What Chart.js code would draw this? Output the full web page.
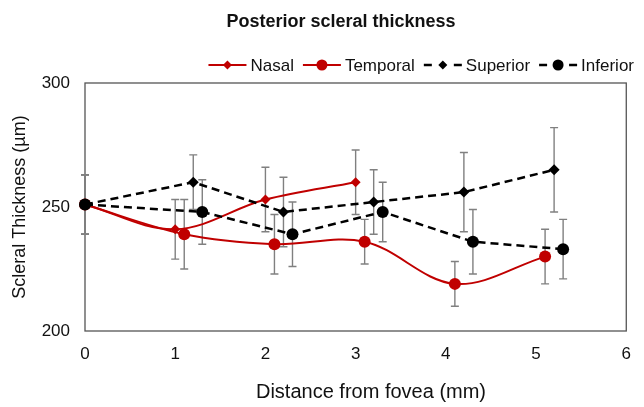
<!DOCTYPE html>
<html>
<head>
<meta charset="utf-8">
<script src="https://cdn.jsdelivr.net/npm/chart.js@4.4.1/dist/chart.umd.min.js"></script>
<style>
  html, body { margin: 0; padding: 0; background: #fff; }
</style>
</head>
<body>
<canvas id="chart" width="644" height="407"></canvas>
<script>
// values (distance in mm, thickness in µm, error = +/- SD)
const nasalX = [0, 1, 2, 3];
const nasalY = [251, 241, 253, 260];
const nasalErr = [12, 12, 13, 13];

const temporalX = [0, 1.1, 2.1, 3.1, 4.1, 5.1];
const temporalY = [251, 239, 235, 236, 219, 230];
const temporalErr = [12, 14, 12, 9, 9, 11];

const superiorX = [0, 1.2, 2.2, 3.2, 4.2, 5.2];
const superiorY = [251, 260, 248, 252, 256, 265];
const superiorErr = [12, 11, 14, 13, 16, 17];

const inferiorX = [0, 1.3, 2.3, 3.3, 4.3, 5.3];
const inferiorY = [251, 248, 239, 248, 236, 233];
const inferiorErr = [12, 13, 13, 12, 13, 12];

const RED = "#c00000";
const BLACK = "#000000";
const FONT = "'Liberation Sans', Arial, sans-serif";

Chart.defaults.font.family = FONT;
Chart.defaults.color = "#111";

const toPoints = (xs, ys) => xs.map((x, i) => ({ x: x, y: ys[i] }));

//draw a legend marker by hand
const drawMarker = (ctx, style, x, y, r, color) => {
  ctx.fillStyle = color;
  ctx.beginPath();
  if (style === "rectRot") {
    ctx.moveTo(x, y - r);
    ctx.lineTo(x + r, y);
    ctx.lineTo(x, y + r);
    ctx.lineTo(x - r, y);
    ctx.closePath();
  } else {
    ctx.arc(x, y, r, 0, Math.PI * 2);
  }
  ctx.fill();
};

//box around the plot area
const framePlugin = {
  id: "frame",
  beforeDatasetsDraw(chart) {
    const { ctx, chartArea: a } = chart;
    ctx.save();
    ctx.strokeStyle = "#555";
    ctx.lineWidth = 1.3;
    ctx.strokeRect(a.left, a.top, a.right - a.left, a.bottom - a.top);
    ctx.restore();
  }
};

//vertical error bars with caps, positioned through the scales
const errorBarPlugin = {
  id: "errorBars",
  beforeDatasetsDraw(chart) {
    const { ctx, scales: { x, y } } = chart;
    ctx.save();
    ctx.strokeStyle = "#808080";
    ctx.lineWidth = 1.4;
    chart.data.datasets.forEach((ds) => {
      ds.data.forEach((p, i) => {
        const e = ds.err[i];
        const px = x.getPixelForValue(p.x);
        const top = y.getPixelForValue(p.y + e);
        const bot = y.getPixelForValue(p.y - e);
        ctx.beginPath();
        ctx.moveTo(px, top);
        ctx.lineTo(px, bot);
        ctx.moveTo(px - 4, top);
        ctx.lineTo(px + 4, top);
        ctx.moveTo(px - 4, bot);
        ctx.lineTo(px + 4, bot);
        ctx.stroke();
      });
    });
    ctx.restore();
  }
};

//title, x axis title and line+marker legend
const headerPlugin = {
  id: "header",
  afterDraw(chart) {
    const ctx = chart.ctx;
    ctx.save();
    ctx.fillStyle = "#111";
    ctx.textBaseline = "middle";
    ctx.textAlign = "center";
    ctx.font = "bold 18px " + FONT;
    ctx.fillText("Posterior scleral thickness", 341, 22);

    ctx.font = "20px " + FONT;
    ctx.fillText("Distance from fovea (mm)", 371, 392);

    ctx.font = "17px " + FONT;
    ctx.textAlign = "left";
    const lineW = 38, gapText = 4, gapItem = 9, yMid = 65;
    const widths = chart.data.datasets.map(ds => lineW + gapText + ctx.measureText(ds.label).width);
    const total = widths.reduce((s, w) => s + w, 0) + gapItem * (widths.length - 1);
    let x = 634 - total;
    chart.data.datasets.forEach((ds, i) => {
      ctx.strokeStyle = ds.borderColor;
      ctx.lineWidth = ds.borderWidth;
      ctx.beginPath();
      if (ds.borderDash) {
        ctx.moveTo(x, yMid); ctx.lineTo(x + 8, yMid);
        ctx.moveTo(x + lineW - 8, yMid); ctx.lineTo(x + lineW, yMid);
      } else {
        ctx.moveTo(x, yMid); ctx.lineTo(x + lineW, yMid);
      }
      ctx.stroke();
      drawMarker(ctx, ds.pointStyle, x + lineW / 2, yMid, ds.pointStyle === "rectRot" ? 4.5 : 5.5, ds.pointBackgroundColor);
      ctx.fillStyle = "#111";
      ctx.fillText(ds.label, x + lineW + gapText, yMid + 1);
      x += widths[i] + gapItem;
    });
    ctx.restore();
  }
};

new Chart(document.getElementById("chart"), {
  type: "line",
  data: {
    datasets: [
      {
        label: "Nasal",
        data: toPoints(nasalX, nasalY),
        err: nasalErr,
        order: 3,
        borderColor: RED,
        borderWidth: 2,
        pointStyle: "rectRot",
        pointRadius: 5,
        pointBackgroundColor: RED,
        pointBorderWidth: 0,
        tension: 0.35
      },
      {
        label: "Temporal",
        data: toPoints(temporalX, temporalY),
        err: temporalErr,
        order: 2,
        borderColor: RED,
        borderWidth: 2,
        pointStyle: "circle",
        pointRadius: 6,
        pointBackgroundColor: RED,
        pointBorderWidth: 0,
        tension: 0.35
      },
      {
        label: "Superior",
        data: toPoints(superiorX, superiorY),
        err: superiorErr,
        order: 1,
        borderColor: BLACK,
        borderWidth: 2.5,
        borderDash: [8, 5],
        pointStyle: "rectRot",
        pointRadius: 5.5,
        pointBackgroundColor: BLACK,
        pointBorderWidth: 0,
        tension: 0
      },
      {
        label: "Inferior",
        data: toPoints(inferiorX, inferiorY),
        err: inferiorErr,
        order: 0,
        borderColor: BLACK,
        borderWidth: 2.5,
        borderDash: [8, 5],
        pointStyle: "circle",
        pointRadius: 6,
        pointBackgroundColor: BLACK,
        pointBorderWidth: 0,
        tension: 0
      }
    ]
  },
  options: {
    responsive: false,
    animation: false,
    clip: false,
    layout: { padding: { top: 83, right: 5, left: 0, bottom: 0 } },
    plugins: {
      legend: { display: false },
      title: { display: false },
      tooltip: { enabled: false }
    },
    scales: {
      x: {
        type: "linear",
        min: 0,
        max: 6,
        ticks: { stepSize: 1, padding: 13, font: { size: 17 } },
        grid: { display: false, drawTicks: false },
        border: { display: false },
        afterFit: (s) => { s.height = 76; }
      },
      y: {
        min: 200,
        max: 300,
        ticks: { stepSize: 50, padding: 15, font: { size: 17 } },
        grid: { display: false, drawTicks: false },
        border: { display: false },
        title: { display: true, text: "Scleral Thickness (µm)", font: { size: 18 }, padding: { top: 9, bottom: 0 } },
        afterFit: (s) => { s.width = 85; }
      }
    }
  },
  plugins: [framePlugin, errorBarPlugin, headerPlugin]
});
</script>
</body>
</html>
